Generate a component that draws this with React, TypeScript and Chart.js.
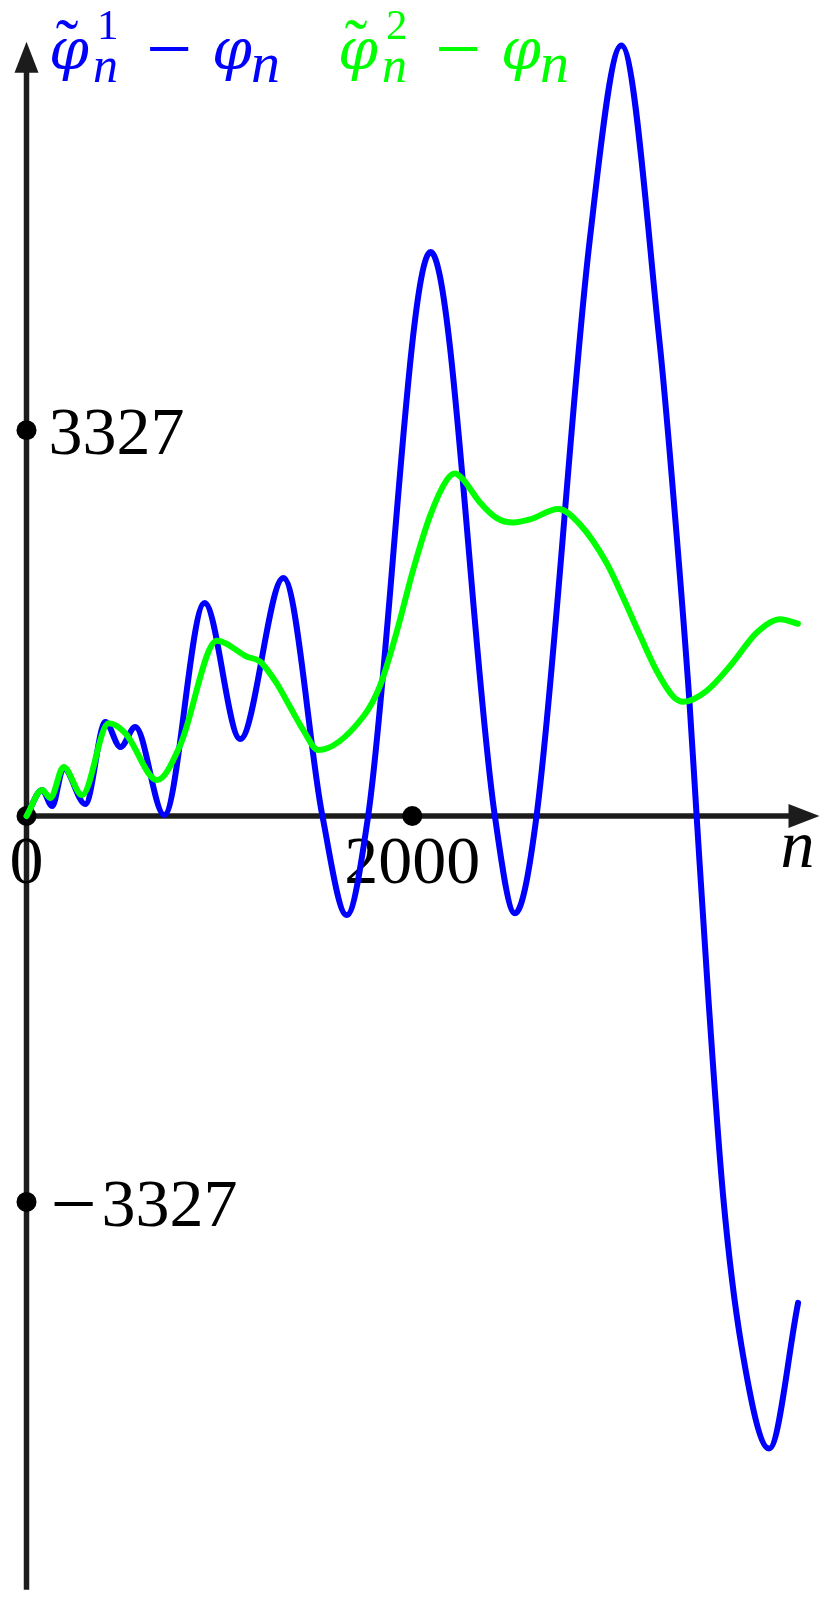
import { useEffect, useRef } from 'react';
import { Chart, registerables } from 'chart.js';

Chart.register(...registerables);

// ---- data ----
const N_BLUE = [0, 81, 133, 192, 305, 409, 487, 564, 714, 923, 1108, 1332, 1534, 1660, 1771, 2095, 2428, 2532, 2644, 2920, 3084, 3282, 3345, 3436, 3474, 3535, 3612, 3707, 3850, 4000];
const V_BLUE = [0, 224, 86, 414, 103, 810, 595, 767, 9, 1837, 664, 2052, 0, -854, 0, 4863, 0, -839, 0, 4968, 6643, 4083, 2928, 1004, 0, -1573, -3288, -4575, -5454, -4198];

const N_GREEN = [0, 81, 124, 192, 288, 426, 513, 677, 797, 987, 1143, 1211, 1297, 1366, 1435, 1512, 1745, 1833, 1919, 2005, 2092, 2178, 2221, 2256, 2351, 2438, 2524, 2610, 2757, 2869, 3008, 3094, 3180, 3267, 3353, 3405, 3526, 3656, 3785, 3906, 3999];
const V_GREEN = [0, 224, 155, 422, 181, 799, 713, 310, 612, 1511, 1374, 1331, 1144, 942, 741, 569, 856, 1125, 1587, 2126, 2588, 2896, 2954, 2915, 2704, 2569, 2531, 2557, 2647, 2515, 2180, 1880, 1560, 1250, 1030, 985, 1080, 1311, 1580, 1696, 1658];

const X_TICKS = [0, 2000];
const X_TICK_LABELS = ['0', '2000'];
const Y_TICKS = [3327, -3327];
const Y_TICK_LABELS = ['3327', '\u22123327'];

// ---- axis extents (data units) ----
const X_MIN = -137.4;
const X_MAX = 4165.4;
const Y_MIN = -6751;
const Y_MAX = 7036;
const X_AXIS_END = 4111;
const Y_AXIS_TOP = 6676;
const Y_AXIS_BOTTOM = -6671;

const BLUE = '#0000ff';
const GREEN = '#00ff00';
const AXIS = '#1c1c1c';

function drawLegendTerm(ctx: CanvasRenderingContext2D, x: number, color: string, sup: string) {
  ctx.save();
  ctx.fillStyle = color;
  ctx.textAlign = 'left';
  ctx.textBaseline = 'alphabetic';
  // phi with tilde
  ctx.font = 'italic 57px "DejaVu Serif"';
  ctx.fillText('\u03c6', x, 69);
  ctx.textAlign = 'center';
  ctx.font = '68px "Liberation Serif"';
  ctx.fillText('\u02dc', x + 18, 66);
  // superscript
  ctx.textAlign = 'left';
  ctx.font = '43px "Liberation Serif"';
  ctx.fillText(sup, x + 48, 39);
  // subscript n
  ctx.font = 'italic 50px "Liberation Serif"';
  ctx.fillText('n', x + 44, 82);
  // minus
  ctx.textAlign = 'center';
  ctx.font = '82px "Liberation Serif"';
  ctx.fillText('\u2212', x + 120, 76);
  // phi_n
  ctx.textAlign = 'left';
  ctx.font = 'italic 57px "DejaVu Serif"';
  ctx.fillText('\u03c6', x + 163, 69);
  ctx.font = 'italic 58px "Liberation Serif"';
  ctx.fillText('n', x + 202, 82);
  ctx.restore();
}

const mathAxes = {
  id: 'mathAxes',
  beforeDatasetsDraw(chart: any) {
    const ctx: CanvasRenderingContext2D = chart.ctx;
    const xs = chart.scales.x;
    const ys = chart.scales.y;
    const x0 = xs.getPixelForValue(0);
    const y0 = ys.getPixelForValue(0);
    const xEnd = xs.getPixelForValue(X_AXIS_END);
    const yTop = ys.getPixelForValue(Y_AXIS_TOP);
    const yBot = ys.getPixelForValue(Y_AXIS_BOTTOM);
    const headLen = 31;
    const headHalf = 12;

    ctx.save();
    ctx.strokeStyle = AXIS;
    ctx.fillStyle = AXIS;
    ctx.lineWidth = 5.5;
    ctx.lineCap = 'butt';
    // y axis
    ctx.beginPath();
    ctx.moveTo(x0, yBot);
    ctx.lineTo(x0, yTop + headLen - 2);
    ctx.stroke();
    ctx.beginPath();
    ctx.moveTo(x0, yTop);
    ctx.lineTo(x0 - headHalf, yTop + headLen);
    ctx.lineTo(x0 + headHalf, yTop + headLen);
    ctx.closePath();
    ctx.fill();
    // x axis
    ctx.beginPath();
    ctx.moveTo(x0, y0);
    ctx.lineTo(xEnd - headLen + 2, y0);
    ctx.stroke();
    ctx.beginPath();
    ctx.moveTo(xEnd, y0);
    ctx.lineTo(xEnd - headLen, y0 - headHalf);
    ctx.lineTo(xEnd - headLen, y0 + headHalf);
    ctx.closePath();
    ctx.fill();

    // tick dots
    ctx.fillStyle = '#000';
    const dots: [number, number][] = [[x0, y0]];
    X_TICKS.forEach((t) => { if (t !== 0) dots.push([xs.getPixelForValue(t), y0]); });
    Y_TICKS.forEach((t) => dots.push([x0, ys.getPixelForValue(t)]));
    dots.forEach(([px, py]) => {
      ctx.beginPath();
      ctx.arc(px, py, 10, 0, Math.PI * 2);
      ctx.fill();
    });

    // tick labels
    ctx.fillStyle = '#000';
    ctx.font = '68px "Liberation Serif"';
    ctx.textBaseline = 'alphabetic';
    ctx.textAlign = 'center';
    X_TICKS.forEach((t, i) => {
      ctx.fillText(X_TICK_LABELS[i], xs.getPixelForValue(t), y0 + 67);
    });
    Y_TICKS.forEach((t, i) => {
      const label = Y_TICK_LABELS[i];
      const ty = ys.getPixelForValue(t);
      if (label.startsWith('\u2212')) {
        ctx.textAlign = 'center';
        ctx.font = '82px "Liberation Serif"';
        ctx.fillText('\u2212', x0 + 47, ty + 29);
        ctx.font = '68px "Liberation Serif"';
        ctx.textAlign = 'left';
        ctx.fillText(label.slice(1), x0 + 75, ty + 24);
      } else {
        ctx.textAlign = 'left';
        ctx.fillText(label, x0 + 22, ty + 24);
      }
    });
    // axis name n
    ctx.font = 'italic 68px "Liberation Serif"';
    ctx.textAlign = 'center';
    ctx.fillText('n', xEnd - 22, y0 + 51);
    ctx.restore();

    drawLegendTerm(ctx, 49, BLUE, '1');
    drawLegendTerm(ctx, 338, GREEN, '2');
  },
};

export default function App() {
  const ref = useRef<HTMLCanvasElement>(null);
  useEffect(() => {
    document.body.style.margin = '0';
    const canvas = ref.current!;
    const chart = new Chart(canvas, {
      type: 'line',
      data: {
        datasets: [
          {
            label: 'green',
            data: N_GREEN.map((n, i) => ({ x: n, y: V_GREEN[i] })),
            borderColor: GREEN,
            borderWidth: 6,
            pointRadius: 0,
            cubicInterpolationMode: 'monotone',
            borderCapStyle: 'round',
            borderJoinStyle: 'round',
            fill: false,
          },
          {
            label: 'blue',
            data: N_BLUE.map((n, i) => ({ x: n, y: V_BLUE[i] })),
            borderColor: BLUE,
            borderWidth: 6,
            pointRadius: 0,
            cubicInterpolationMode: 'monotone',
            borderCapStyle: 'round',
            borderJoinStyle: 'round',
            fill: false,
          },
        ],
      },
      options: {
        responsive: false,
        animation: false,
        events: [],
        layout: { padding: 0 },
        plugins: { legend: { display: false }, tooltip: { enabled: false } },
        scales: {
          x: { type: 'linear', min: X_MIN, max: X_MAX, display: false },
          y: { type: 'linear', min: Y_MIN, max: Y_MAX, display: false },
        },
      } as any,
      plugins: [mathAxes],
    });
    return () => chart.destroy();
  }, []);
  return (
    <div style={{ position: 'absolute', left: 0, top: 0, width: 830, height: 1599, background: '#fff' }}>
      <canvas ref={ref} width={830} height={1599} style={{ display: 'block' }} />
    </div>
  );
}
